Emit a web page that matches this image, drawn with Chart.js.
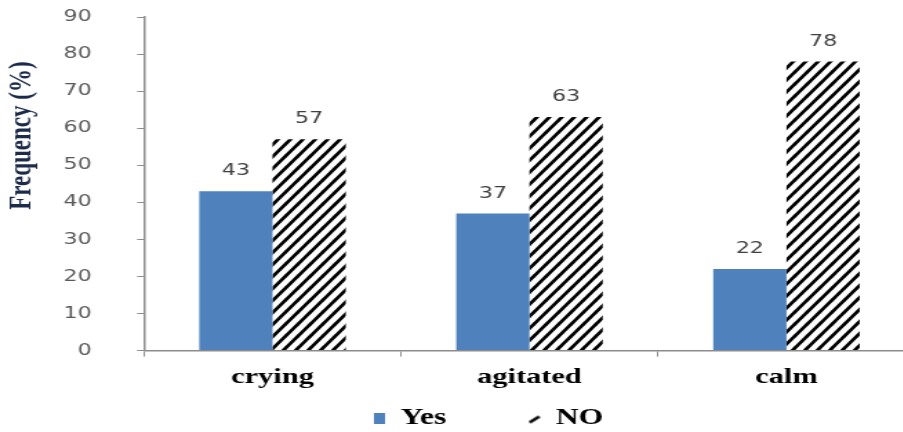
<!DOCTYPE html>
<html>
<head>
<meta charset="utf-8">
<script src="https://cdn.jsdelivr.net/npm/chart.js@4"></script>
<style>
  html, body { margin: 0; padding: 0; background: #fff; overflow: hidden; width: 903px; height: 432px; }
  /* the chart is laid out narrow and widened, giving the broad lettering */
  #chart { display: block; transform: scaleX(1.38); transform-origin: 0 0; }
</style>
</head>
<body>
<canvas id="chart" width="665" height="432"></canvas>
<script>
// reaction categories and percentages
const categories = ['crying', 'agitated', 'calm'];
const yesValues  = [43, 37, 22];
const noValues   = [57, 63, 78];
const yTicks     = [0, 10, 20, 30, 40, 50, 60, 70, 80, 90];
const yTitle     = 'Frequency (%)';

const BLUE = '#4F81BD';
const SERIF = '"Liberation Serif", "Times New Roman", serif';
const SANS  = '"DejaVu Sans", Verdana, sans-serif';

// diagonal black hatch for the "NO" bars (tile is narrow to suit the stretch)
function makeHatch() {
  const w = 9, h = 12;
  const c = document.createElement('canvas');
  c.width = w; c.height = h;
  const g = c.getContext('2d');
  g.fillStyle = '#fff';
  g.fillRect(0, 0, w, h);
  g.strokeStyle = '#000';
  g.lineWidth = 2.8;
  g.beginPath();
  for (const k of [-1, 0, 1]) {
    g.moveTo(-1, h + h / w + k * h);
    g.lineTo(w + 1, -h / w + k * h);
  }
  g.stroke();
  return g.createPattern(c, 'repeat');
}

// legend markers
function squareMarker() {
  const c = document.createElement('canvas');
  c.width = 8; c.height = 11;
  const g = c.getContext('2d');
  g.fillStyle = BLUE;
  g.fillRect(0, 0, 8, 11);
  return c;
}
function slashMarker() {
  const c = document.createElement('canvas');
  c.width = 9; c.height = 12;
  const g = c.getContext('2d');
  g.strokeStyle = '#000';
  g.lineWidth = 2.6;
  g.beginPath();
  g.moveTo(1, 10); g.lineTo(8, 4);
  g.stroke();
  return c;
}

// numbers above each bar
const valueLabels = {
  id: 'valueLabels',
  afterDatasetsDraw(chart) {
    const ctx = chart.ctx;
    ctx.save();
    ctx.font = '16px ' + SANS;
    ctx.fillStyle = '#404040';
    ctx.textAlign = 'center';
    ctx.textBaseline = 'bottom';
    chart.data.datasets.forEach((ds, i) => {
      chart.getDatasetMeta(i).data.forEach((bar, j) => {
        ctx.fillText(ds.data[j], bar.x, bar.y - 12);
      });
    });
    ctx.restore();
  }
};

// rotated y-axis caption, sitting a little above the middle of the axis
const axisCaption = {
  id: 'axisCaption',
  afterDraw(chart) {
    const ctx = chart.ctx;
    const y = chart.scales.y;
    ctx.save();
    ctx.translate(16, y.getPixelForValue(58));
    ctx.rotate(-Math.PI / 2);
    ctx.font = 'bold 23px ' + SERIF;
    ctx.fillStyle = '#1c2b4a';
    ctx.textAlign = 'center';
    ctx.textBaseline = 'middle';
    ctx.fillText(yTitle, 0, 0);
    ctx.restore();
  }
};

// nudge the legend row a bit right of centre
const legendShift = {
  id: 'legendShift',
  afterLayout(chart) {
    if (!chart.legend) return;
    chart.legend.left += 16;
    chart.legend.right += 16;
  }
};

const yesMarker = squareMarker();
const noMarker  = slashMarker();

new Chart(document.getElementById('chart'), {
  type: 'bar',
  data: {
    labels: categories,
    datasets: [
      { label: 'Yes', data: yesValues, backgroundColor: BLUE, borderWidth: 0 },
      { label: 'NO',  data: noValues,  backgroundColor: makeHatch(), borderWidth: 0 }
    ]
  },
  options: {
    responsive: false,
    animation: false,
    layout: { padding: { top: 17, right: 2, bottom: -8, left: 13 } },
    datasets: { bar: { categoryPercentage: 0.57, barPercentage: 1.0 } },
    scales: {
      x: {
        grid: { display: true, drawOnChartArea: false, offset: true, color: '#8c8c8c', tickLength: 6 },
        border: { display: true, color: '#8c8c8c', width: 1.5 },
        ticks: {
          color: '#000',
          padding: 8,
          font: { family: SERIF, size: 22, weight: 'bold' }
        }
      },
      y: {
        min: 0,
        max: 90,
        afterBuildTicks(axis) { axis.ticks = yTicks.map(v => ({ value: v })); },
        // the wide label gap should not push the plot down
        afterFit(axis) { axis.paddingTop = 8; axis.paddingBottom = 8; },
        grid: { display: true, drawOnChartArea: false, color: '#8c8c8c', tickLength: 5 },
        border: { display: true, color: '#8c8c8c', width: 1.5 },
        ticks: {
          color: '#595959',
          padding: 33,
          font: { family: SANS, size: 16 }
        }
      }
    },
    plugins: {
      legend: {
        position: 'bottom',
        labels: {
          usePointStyle: true,
          boxWidth: 8,
          padding: 8,
          color: '#000',
          font: { family: SERIF, size: 23, weight: 'bold' },
          generateLabels(chart) {
            return chart.data.datasets.map((ds, i) => ({
              text: i === 0 ? ds.label + '         ' : ds.label,
              pointStyle: i === 0 ? yesMarker : noMarker,
              fillStyle: ds.backgroundColor,
              strokeStyle: 'transparent',
              lineWidth: 0,
              datasetIndex: i,
              hidden: false
            }));
          }
        }
      },
      tooltip: { enabled: false }
    }
  },
  plugins: [valueLabels, axisCaption, legendShift]
});
</script>
</body>
</html>
